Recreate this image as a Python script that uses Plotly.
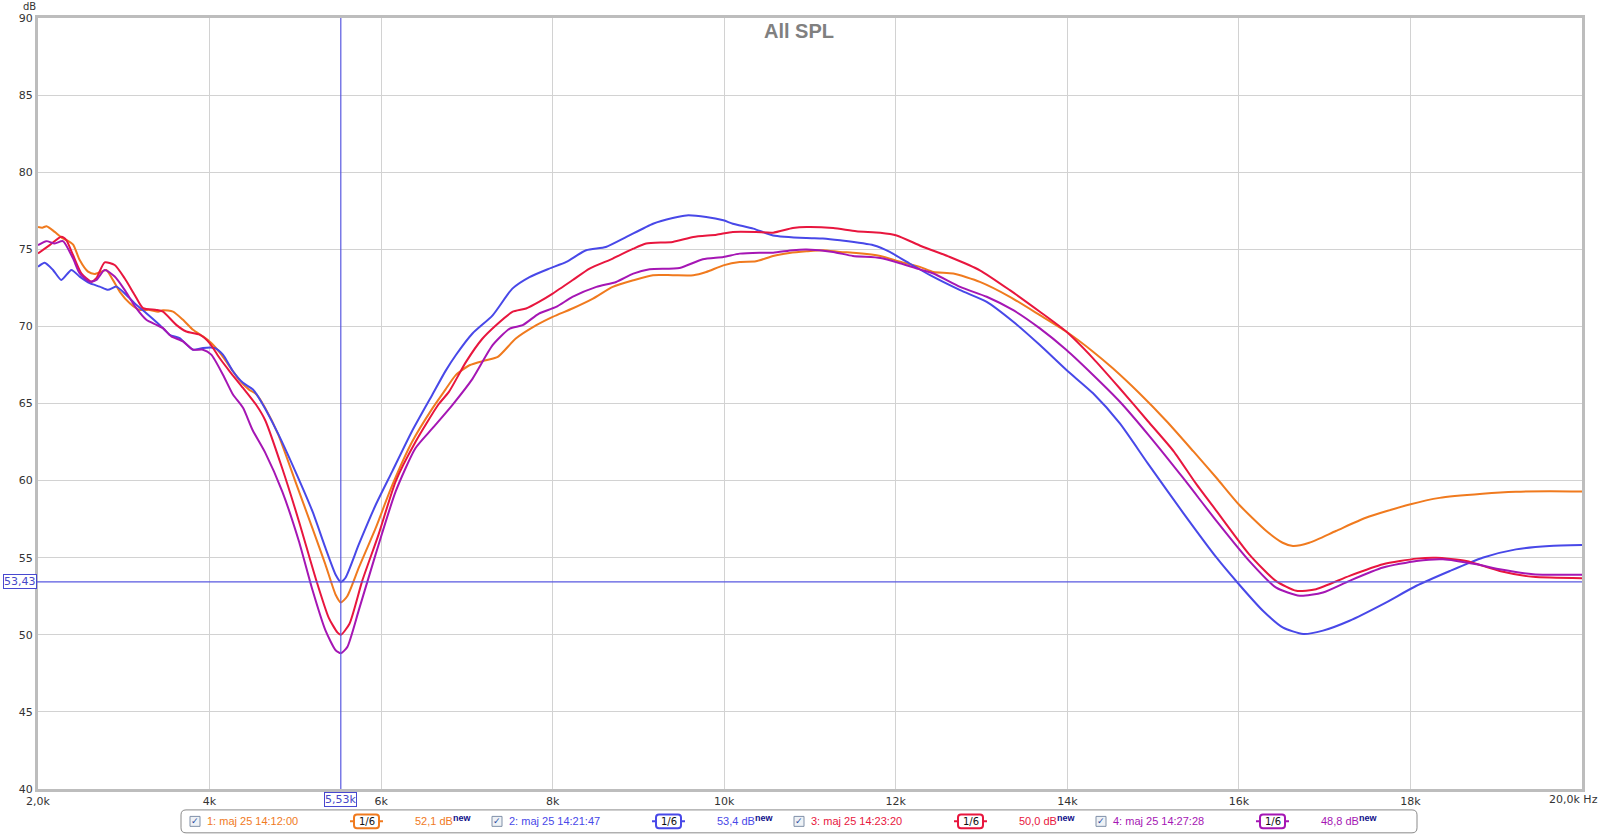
import plotly.graph_objects as go

freq_1 = [2.0, 2.05, 2.10, 2.195, 2.29, 2.35, 2.41, 2.486, 2.583, 2.66, 2.74, 2.797, 2.875, 2.952, 3.07, 3.185,
          3.30, 3.40, 3.457, 3.574, 3.69, 3.807, 3.923, 4.02, 4.137, 4.273, 4.35, 4.46, 4.545, 4.65, 4.80, 5.0,
          5.2, 5.35, 5.47, 5.53, 5.605, 5.74, 5.935, 6.13, 6.36, 6.6, 6.75, 6.87, 7.03, 7.22, 7.36, 7.57, 7.81,
          8.0, 8.23, 8.47, 8.70, 8.94, 9.17, 9.40, 9.64, 9.79, 9.99, 10.18, 10.37, 10.57, 10.76, 10.96, 11.15,
          11.35, 11.54, 11.82, 12.05, 12.28, 12.44, 12.67, 12.98, 13.33, 13.68, 13.99, 14.3, 14.53, 14.84, 15.16,
          15.47, 15.74, 16.0, 16.32, 16.51, 16.63, 16.82, 17.13, 17.48, 17.99, 18.34, 18.84, 19.23, 19.62, 20.0]
spl_1 = [76.45, 76.4, 76.5, 76.13, 75.7, 75.55, 75.3, 74.3, 73.55, 73.4, 73.55, 73.66, 73.0, 72.26, 71.5, 71.07,
         71.07, 70.95, 71.05, 70.96, 70.43, 69.78, 69.35, 68.92, 68.17, 67.09, 66.5, 65.9, 65.6, 64.7, 63.0, 59.95,
         56.9, 54.57, 52.6, 52.1, 52.5, 54.35, 56.9, 59.7, 62.5, 64.7, 65.9, 66.84, 67.48, 67.8, 68.02, 69.21, 70.08,
         70.62, 71.16, 71.8, 72.56, 72.99, 73.32, 73.32, 73.32, 73.53, 73.96, 74.18, 74.22, 74.57, 74.76, 74.87, 74.94,
         74.83, 74.76, 74.57, 74.2, 73.86, 73.53, 73.43, 72.89, 71.92, 70.73, 69.65, 68.36, 67.28, 65.66, 63.83,
         61.89, 60.17, 58.45, 56.73, 55.97, 55.76, 55.97, 56.73, 57.59, 58.45, 58.88, 59.14, 59.27, 59.31, 59.29]

freq_2 = [2.0, 2.078, 2.175, 2.272, 2.389, 2.486, 2.603, 2.719, 2.816, 2.913, 3.03, 3.146, 3.263, 3.418, 3.535,
          3.651, 3.807, 3.923, 4.059, 4.156, 4.273, 4.39, 4.506, 4.614, 4.80, 5.0, 5.2, 5.35, 5.47, 5.53, 5.585,
          5.74, 5.935, 6.13, 6.36, 6.6, 6.75, 6.87, 7.065, 7.30, 7.53, 7.73, 7.96, 8.16, 8.39, 8.62, 8.86, 9.17,
          9.40, 9.56, 9.79, 9.99, 10.1, 10.34, 10.57, 10.96, 11.15, 11.35, 11.74, 11.93, 12.13, 12.4, 12.75, 13.06,
          13.37, 13.68, 13.99, 14.3, 14.61, 14.94, 15.35, 15.74, 16.0, 16.28, 16.51, 16.75, 16.98, 17.29, 17.68,
          18.07, 18.46, 18.84, 19.23, 19.62, 20.0]
spl_2 = [73.87, 74.13, 73.66, 73.01, 73.66, 73.23, 72.8, 72.58, 72.37, 72.58, 72.04, 71.4, 70.86, 70.1, 69.46,
         69.24, 68.49, 68.6, 68.6, 68.17, 67.09, 66.34, 65.91, 65.0, 63.03, 60.6, 58.0, 55.65, 53.9, 53.43, 53.7,
         55.86, 58.4, 60.6, 63.2, 65.6, 67.1, 68.13, 69.54, 70.72, 72.45, 73.2, 73.75, 74.18, 74.94, 75.15, 75.8, 76.66,
         77.03, 77.2, 77.1, 76.88, 76.66, 76.34, 75.9, 75.73, 75.7, 75.58, 75.26, 74.83, 74.18, 73.32, 72.35, 71.59,
         70.3, 68.79, 67.17, 65.66, 63.72, 61.1, 57.91, 55.0, 53.28, 51.56, 50.48, 50.05, 50.27, 50.91, 51.99,
         53.18, 54.14, 55.0, 55.54, 55.76, 55.82]

freq_3 = [2.0, 2.136, 2.272, 2.33, 2.408, 2.505, 2.622, 2.68, 2.777, 2.894, 3.01, 3.127, 3.224, 3.38, 3.457, 3.612,
          3.729, 3.884, 4.0, 4.117, 4.234, 4.39, 4.545, 4.65, 4.847, 5.04, 5.235, 5.39, 5.49, 5.53, 5.63, 5.78, 5.97,
          6.17, 6.4, 6.67, 6.79, 6.99, 7.18, 7.34, 7.53, 7.69, 7.84, 8.0, 8.23, 8.43, 8.70, 8.94, 9.09, 9.40, 9.64,
          9.91, 10.1, 10.37, 10.57, 10.8, 10.96, 11.27, 11.54, 11.82, 12.01, 12.3, 12.63, 12.98, 13.33, 13.68, 13.99,
          14.3, 14.61, 14.94, 15.24, 15.5, 15.74, 16.12, 16.43, 16.67, 16.9, 17.29, 17.68, 18.07, 18.3, 18.65, 19.04,
          19.43, 20.0]
spl_3 = [74.73, 75.27, 75.81, 75.6, 74.63, 73.44, 72.9, 73.12, 74.15, 73.98, 73.12, 72.04, 71.18, 71.07, 70.96, 70.1,
         69.67, 69.46, 68.92, 67.95, 67.09, 66.01, 64.9, 63.9, 60.8, 57.4, 53.7, 51.1, 50.16, 50.0, 50.7, 53.5, 56.5,
         59.95, 62.5, 64.95, 65.75, 67.7, 69.2, 70.08, 70.94, 71.16, 71.59, 72.13, 72.99, 73.75, 74.4, 75.04, 75.37,
         75.48, 75.8, 75.95, 76.12, 76.12, 76.08, 76.38, 76.45, 76.38, 76.17, 76.08, 75.9, 75.2, 74.5, 73.64, 72.35,
         70.95, 69.65, 67.93, 65.99, 63.85, 61.9, 59.8, 58.02, 55.22, 53.5, 52.85, 52.96, 53.82, 54.57, 54.94, 55.0,
         54.79, 54.14, 53.76, 53.67]

freq_4 = [2.0, 2.097, 2.195, 2.29, 2.408, 2.486, 2.603, 2.68, 2.777, 2.894, 3.01, 3.146, 3.263, 3.38, 3.457, 3.554,
          3.69, 3.807, 3.923, 4.02, 4.156, 4.273, 4.39, 4.50, 4.65, 4.847, 5.04, 5.2, 5.35, 5.47, 5.53, 5.605, 5.74,
          5.935, 6.17, 6.4, 6.6, 6.83, 7.065, 7.30, 7.50, 7.65, 7.84, 8.04, 8.23, 8.51, 8.74, 8.94, 9.13, 9.48, 9.75,
          9.99, 10.18, 10.41, 10.57, 10.8, 10.96, 11.27, 11.5, 11.82, 12.05, 12.28, 12.44, 12.75, 13.06, 13.37, 13.68,
          13.99, 14.3, 14.61, 14.94, 15.35, 15.74, 16.12, 16.43, 16.71, 16.98, 17.29, 17.68, 18.07, 18.38, 18.77,
          19.04, 19.43, 20.0]
spl_4 = [75.27, 75.53, 75.38, 75.53, 74.41, 73.44, 72.9, 73.01, 73.66, 73.23, 72.37, 71.18, 70.43, 70.1, 69.89, 69.35,
         69.03, 68.49, 68.49, 68.17, 66.87, 65.58, 64.72, 63.3, 61.8, 59.3, 56.1, 52.9, 50.3, 49.0, 48.8, 49.2, 51.6,
         55.2, 59.3, 62.1, 63.4, 64.9, 66.6, 68.78, 69.86, 70.08, 70.83, 71.26, 71.91, 72.56, 72.88, 73.42, 73.7,
         73.79, 74.35, 74.5, 74.72, 74.78, 74.78, 74.94, 74.98, 74.83, 74.57, 74.44, 74.1, 73.7, 73.43, 72.56, 71.92,
         71.05, 69.87, 68.47, 66.85, 65.13, 63.0, 60.17, 57.37, 54.79, 53.07, 52.53, 52.74, 53.5, 54.36, 54.79, 54.9,
         54.57, 54.25, 53.93, 53.89]

series_names = ["1: maj 25 14:12:00", "2: maj 25 14:21:47", "3: maj 25 14:23:20", "4: maj 25 14:27:28"]
series_levels = ["52,1 dB", "53,4 dB", "50,0 dB", "48,8 dB"]
series_colors = ["#F07A1E", "#4848E8", "#E8163E", "#A516B4"]

cursor_freq = 5.53
cursor_spl = 53.43

x_ticks = [2, 4, 6, 8, 10, 12, 14, 16, 18]
x_tick_labels = ["2,0k", "4k", "6k", "8k", "10k", "12k", "14k", "16k", "18k"]
x_end_label = "20,0k Hz"
y_ticks = [40, 45, 50, 55, 60, 65, 70, 75, 80, 85, 90]

# plot area in pixels
W, H = 1600, 836
L, R, T, B = 38, 1582, 15, 789


def px(x):
    return (x - L) / (R - L)


def py(y):
    return (B - y) / (B - T)


def rounded_box(x0, y0, x1, y1, r):
    # path in paper coords for a rounded rectangle given in pixels
    rx, ry = r / (R - L), r / (B - T)
    a, b, c, d = px(x0), py(y1), px(x1), py(y0)
    return (f"M {a + rx},{b} L {c - rx},{b} Q {c},{b} {c},{b + ry} L {c},{d - ry} Q {c},{d} {c - rx},{d} "
            f"L {a + rx},{d} Q {a},{d} {a},{d - ry} L {a},{b + ry} Q {a},{b} {a + rx},{b} Z")


def label(x, y, text, size, color, family="Liberation Sans", xanchor="center", **kw):
    d = dict(xref="paper", yref="paper", x=px(x), y=py(y), text=text, showarrow=False,
             xanchor=xanchor, yanchor="middle", font=dict(family=family, size=size, color=color))
    d.update(kw)
    return d


fig = go.Figure()
for f, s, name, col in zip([freq_1, freq_2, freq_3, freq_4], [spl_1, spl_2, spl_3, spl_4],
                           series_names, series_colors):
    fig.add_trace(go.Scatter(x=f, y=s, mode="lines", name=name,
                             line=dict(color=col, width=2, shape="spline", smoothing=0.6),
                             showlegend=False))

tick_font = dict(family="DejaVu Sans", size=11, color="#333333")
fig.update_xaxes(range=[2, 20], tickvals=x_ticks, ticktext=x_tick_labels, tickfont=tick_font,
                 showgrid=True, gridcolor="#D2D2D2", gridwidth=1, zeroline=False,
                 showline=True, linecolor="#BDBDBD", linewidth=3, mirror=True, ticks="")
fig.update_yaxes(range=[40, 90], tickvals=y_ticks, tickfont=tick_font,
                 showgrid=True, gridcolor="#D2D2D2", gridwidth=1, zeroline=False,
                 showline=True, linecolor="#BDBDBD", linewidth=3, mirror=True, ticks="")

shapes = []
annotations = []

# cursor
cur_col = "#5858E0"
shapes.append(dict(type="line", xref="x", yref="paper", x0=cursor_freq, x1=cursor_freq, y0=0, y1=1,
                   line=dict(color=cur_col, width=1.2), layer="above"))
shapes.append(dict(type="line", xref="paper", yref="y", x0=px(3), x1=1, y0=cursor_spl, y1=cursor_spl,
                   line=dict(color=cur_col, width=1.2), layer="above"))
annotations.append(dict(xref="paper", yref="y", x=px(20), y=cursor_spl, text=f"{cursor_spl:.2f}".replace(".", ","),
                        showarrow=False, xanchor="center", yanchor="middle",
                        font=dict(family="DejaVu Sans", size=11, color="#4848C8"),
                        bgcolor="white", bordercolor="#4848D0", borderwidth=1, borderpad=0))
annotations.append(dict(xref="x", yref="paper", x=cursor_freq, y=py(800),
                        text=f"{cursor_freq:.2f}".replace(".", ",") + "k",
                        showarrow=False, xanchor="center", yanchor="middle",
                        font=dict(family="DejaVu Sans", size=11, color="#4848C8"),
                        bgcolor="white", bordercolor="#4848D0", borderwidth=1, borderpad=0))
annotations.append(label(1600, 800, x_end_label, 11, "#333333", family="DejaVu Sans", xanchor="right"))

# title and axis unit
annotations.append(label(799, 28, "<b>All SPL</b>", 20, "#808080"))
annotations.append(label(29, 3.5, "dB", 10, "#333333", family="DejaVu Sans"))

# legend strip
shapes.append(dict(type="path", xref="paper", yref="paper", path=rounded_box(181, 810, 1417, 833, 5),
                   line=dict(color="#8A8A8A", width=1), fillcolor="white"))
yc = 821.5
for i, (name, lev, col) in enumerate(zip(series_names, series_levels, series_colors)):
    x0 = 195 + 302 * i
    shapes.append(dict(type="rect", xref="paper", yref="paper", x0=px(x0 - 5), x1=px(x0 + 5),
                       y0=py(yc + 5), y1=py(yc - 5), line=dict(color="#8090A8", width=1),
                       fillcolor="#EEF2F6"))
    annotations.append(label(x0, yc, "✓", 9, "#2848A0", family="DejaVu Sans"))
    annotations.append(label(x0 + 10, yc, name, 11, col, xanchor="left"))
    shapes.append(dict(type="line", xref="paper", yref="paper", x0=px(x0 + 155), x1=px(x0 + 188),
                       y0=py(yc), y1=py(yc), line=dict(color=col, width=2)))
    shapes.append(dict(type="path", xref="paper", yref="paper",
                       path=rounded_box(x0 + 159, yc - 7, x0 + 184, yc + 7, 3),
                       line=dict(color=col, width=2), fillcolor="white"))
    annotations.append(label(x0 + 171.5, yc, "1/6", 10, "#111111", family="DejaVu Sans"))
    annotations.append(label(x0 + 218, yc, lev, 11, col, xanchor="left"))
    annotations.append(label(x0 + 256, yc - 3, "<b>new</b>", 9, "#10108A", xanchor="left"))

fig.update_layout(
    width=W, height=H,
    autosize=False,
    margin=dict(l=L, r=W - R, t=T, b=H - B, pad=0),
    paper_bgcolor="white",
    plot_bgcolor="white",
    showlegend=False,
    shapes=shapes,
    annotations=annotations,
)

# drop the browser's default body margin so the figure sits at the page origin
fig.write_html("out.html", config={"displayModeBar": False},
               post_script="document.body.style.margin='0px';")
